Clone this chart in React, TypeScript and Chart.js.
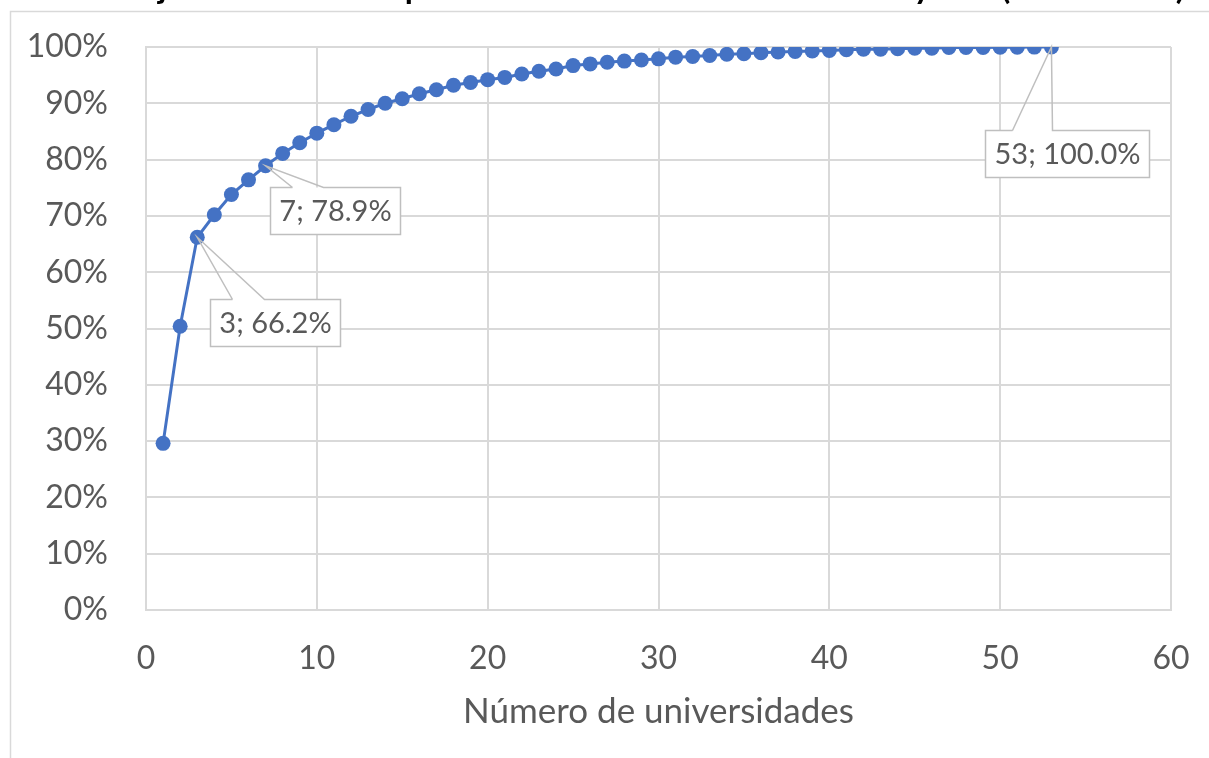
import React, { useEffect, useRef } from "react";
import { Chart, registerables } from "chart.js";

Chart.register(...registerables);

// ---- Data ----
const universidades = [
  1, 2, 3, 4, 5, 6, 7, 8, 9, 10,
  11, 12, 13, 14, 15, 16, 17, 18, 19, 20,
  21, 22, 23, 24, 25, 26, 27, 28, 29, 30,
  31, 32, 33, 34, 35, 36, 37, 38, 39, 40,
  41, 42, 43, 44, 45, 46, 47, 48, 49, 50,
  51, 52, 53,
];

const porcentajeAcumulado = [
  29.6, 50.4, 66.2, 70.2, 73.8, 76.4, 78.9, 81.1, 83.0, 84.7,
  86.2, 87.7, 88.9, 90.0, 90.8, 91.7, 92.4, 93.2, 93.7, 94.2,
  94.6, 95.2, 95.7, 96.1, 96.7, 97.0, 97.3, 97.5, 97.7, 97.9,
  98.2, 98.3, 98.5, 98.7, 98.8, 99.0, 99.1, 99.2, 99.3, 99.4,
  99.5, 99.6, 99.6, 99.7, 99.8, 99.8, 99.9, 99.9, 99.9, 99.95,
  99.97, 99.98, 100.0,
];

const xTickValues = [0, 10, 20, 30, 40, 50, 60];
const yTickValues = [0, 10, 20, 30, 40, 50, 60, 70, 80, 90, 100];
const universidadesEtiquetadas = [3, 7, 53];

const tituloGrafico =
  "Porcentaje acumulado de publicaciones de las universidades y año (2010-2019)";
const tituloEjeX = "Número de universidades";

// ---- Styling / layout (not data) ----
const FONT = "Lato, 'Noto Sans', sans-serif";
const TEXT_GREY = "#595959";
const GRID = "#d9d9d9";
const BLUE = "#4472C4";

const calloutLayout: Record<number, { dx: number; dy: number; b1: number; b2: number }> = {
  3: { dx: 78, dy: 85.5, b1: 22, b2: 54 },
  7: { dx: 69, dy: 45, b1: 22, b2: 53 },
  53: { dx: 16, dy: 106.5, b1: 27, b2: 67 },
};

const framePlugin = {
  id: "frameAndTitle",
  beforeDraw(chart: any) {
    const ctx = chart.ctx;
    ctx.save();
    ctx.fillStyle = "#ffffff";
    ctx.fillRect(0, 0, chart.width, chart.height);
    ctx.strokeStyle = GRID;
    ctx.lineWidth = 1.5;
    ctx.strokeRect(10.5, 11.5, 3000, 3000);
    ctx.fillStyle = "#000000";
    ctx.font = `bold 33px ${FONT}`;
    ctx.textAlign = "center";
    ctx.textBaseline = "alphabetic";
    ctx.fillText(tituloGrafico, 606, -1);
    ctx.restore();
  },
};

const calloutPlugin = {
  id: "callouts",
  afterDatasetsDraw(chart: any) {
    const ctx = chart.ctx;
    const meta = chart.getDatasetMeta(0);
    ctx.save();
    ctx.font = `29px ${FONT}`;
    universidadesEtiquetadas.forEach((n) => {
      const i = universidades.indexOf(n);
      const el = meta.data[i];
      if (!el) return;
      const px = el.x;
      const py = el.y;
      const text = `${n}; ${porcentajeAcumulado[i].toFixed(1)}%`;
      const lay = calloutLayout[n];
      const tw = ctx.measureText(text).width;
      const bw = Math.round(tw + 18);
      const bh = 47;
      const cx = px + lay.dx;
      const cy = py + lay.dy;
      const left = Math.round(cx - bw / 2) + 0.5;
      const top = Math.round(cy - bh / 2) + 0.5;
      ctx.fillStyle = "#ffffff";
      ctx.fillRect(left, top, bw, bh);
      ctx.strokeStyle = "#bfbfbf";
      ctx.lineWidth = 1.5;
      ctx.beginPath();
      ctx.moveTo(left + lay.b1, top);
      ctx.lineTo(left, top);
      ctx.lineTo(left, top + bh);
      ctx.lineTo(left + bw, top + bh);
      ctx.lineTo(left + bw, top);
      ctx.lineTo(left + lay.b2, top);
      ctx.lineTo(px, py);
      ctx.lineTo(left + lay.b1, top);
      ctx.stroke();
      ctx.fillStyle = TEXT_GREY;
      ctx.textAlign = "center";
      ctx.textBaseline = "middle";
      ctx.fillText(text, left + bw / 2, top + bh / 2 + 1);
    });
    ctx.restore();
  },
};

export default function App() {
  const canvasRef = useRef<HTMLCanvasElement>(null);

  useEffect(() => {
    document.body.style.margin = "0";
    let chart: Chart | null = null;
    let cancelled = false;

    const build = () => {
      if (cancelled || !canvasRef.current) return;
      chart = new Chart(canvasRef.current, {
        type: "scatter",
        data: {
          datasets: [
            {
              data: universidades.map((u, i) => ({ x: u, y: porcentajeAcumulado[i] })),
              showLine: true,
              borderColor: BLUE,
              backgroundColor: BLUE,
              borderWidth: 3,
              pointRadius: 7.5,
              pointBorderWidth: 0,
              pointBackgroundColor: BLUE,
              pointHoverRadius: 7.5,
              tension: 0,
            },
          ],
        },
        options: {
          responsive: false,
          devicePixelRatio: 1,
          animation: false,
          events: [],
          layout: { autoPadding: false, padding: { left: 0, top: 47, right: 38, bottom: 0 } },
          plugins: {
            legend: { display: false },
            tooltip: { enabled: false },
            title: { display: false },
          },
          scales: {
            x: {
              type: "linear",
              min: 0,
              max: 60,
              afterBuildTicks: (scale: any) => {
                scale.ticks = xTickValues.map((v) => ({ value: v }));
              },
              ticks: {
                autoSkip: false,
                maxRotation: 0,
                color: TEXT_GREY,
                font: { size: 32, family: FONT },
                padding: 0,
                callback: (v: any) => String(v),
              },
              grid: {
                color: GRID,
                lineWidth: 2,
                drawTicks: true,
                tickLength: 29,
                tickColor: "rgba(0,0,0,0)",
              },
              border: { color: GRID, width: 2 },
              title: {
                display: true,
                text: tituloEjeX,
                color: TEXT_GREY,
                font: { size: 35, family: FONT },
                padding: { top: 0, bottom: 25 },
              },
              afterFit: (scale: any) => {
                scale.height = 148;
              },
            },
            y: {
              type: "linear",
              min: 0,
              max: 100,
              afterBuildTicks: (scale: any) => {
                scale.ticks = yTickValues.map((v) => ({ value: v }));
              },
              ticks: {
                autoSkip: false,
                color: TEXT_GREY,
                font: { size: 32, family: FONT },
                padding: 0,
                callback: (v: any) => `${v}%`,
              },
              grid: {
                color: GRID,
                lineWidth: 2,
                drawTicks: true,
                tickLength: 38,
                tickColor: "rgba(0,0,0,0)",
              },
              border: { color: GRID, width: 2 },
              afterFit: (scale: any) => {
                scale.width = 146;
              },
            },
          },
        },
        plugins: [framePlugin, calloutPlugin],
      });
    };

    const fontsReady = (document as any).fonts
      ? Promise.all([
          (document as any).fonts.load(`32px Lato`),
          (document as any).fonts.load(`bold 33px Lato`),
        ]).catch(() => null)
      : Promise.resolve(null);
    fontsReady.then(build);

    return () => {
      cancelled = true;
      if (chart) chart.destroy();
    };
  }, []);

  return (
    <div
      style={{
        position: "fixed",
        left: 0,
        top: 0,
        width: 1209,
        height: 758,
        overflow: "hidden",
        background: "#ffffff",
      }}
    >
      <canvas
        ref={canvasRef}
        width={1209}
        height={758}
        style={{ display: "block", width: 1209, height: 758 }}
      />
    </div>
  );
}
